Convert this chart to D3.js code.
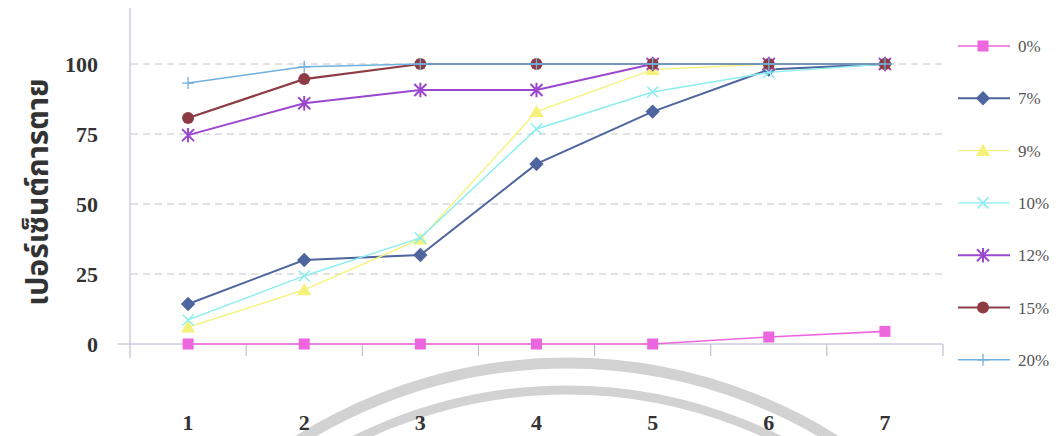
<!DOCTYPE html>
<html>
<head>
<meta charset="utf-8">
<script src="https://cdn.jsdelivr.net/npm/d3@7/dist/d3.min.js"></script>
<style>
  html, body { margin: 0; padding: 0; background: #ffffff; }
  svg { display: block; }
</style>
</head>
<body>
<svg id="chart" width="1058" height="436"></svg>
<script>
// Days after treatment
const days = ["1", "2", "3", "4", "5", "6", "7"];
// Y-axis tick values
const yTicks = [0, 25, 50, 75, 100];

// Percent mortality per concentration
const c0  = [0, 0, 0, 0, 0, 2.5, 4.5];
const c7  = [14.3, 30, 31.8, 64.3, 83, 98, 100];
const c9  = [6, 19.3, 37.5, 83, 98, 100, 100];
const c10 = [8.6, 24.3, 37.9, 76.8, 90, 97, 100];
const c12 = [74.6, 86, 90.7, 90.7, 100, 100, 100];
const c15 = [80.7, 94.6, 100, 100, 100, 100, 100];
const c20 = [93.2, 99, 100, 100, 100, 100, 100];

const seriesNames = ["0%", "7%", "9%", "10%", "12%", "15%", "20%"];
const seriesValues = [c0, c7, c9, c10, c12, c15, c20];
const seriesColors = ["#ee66dd", "#4f659f", "#f4f27a", "#8ceeee", "#9b47cf", "#8e3c44", "#6fb0de"];
const seriesMarkers = ["square", "diamond", "triangle", "cross", "star", "circle", "plus"];
const seriesWidths = [1.6, 2, 1.4, 1.4, 2, 2.2, 1.4];

const svg = d3.select("#chart");

const x = d3.scaleBand().domain(days).range([130, 943]).paddingInner(0).paddingOuter(0);
const y = d3.scaleLinear().domain([-5, 120]).range([358, 8]);
const cx = d => x(d) + x.bandwidth() / 2;

// faint circular watermark arcs
const wm = svg.append("g");
[[503, 11], [476, 9]].forEach(([r, w]) => {
  wm.append("circle")
    .attr("cx", 567).attr("cy", 866).attr("r", r)
    .attr("fill", "none").attr("stroke", "#d2d2d2").attr("stroke-width", w);
});

// dashed gridlines
svg.append("g").selectAll("line")
  .data(yTicks.filter(v => v > 0))
  .join("line")
  .attr("x1", 131).attr("x2", 943)
  .attr("y1", d => y(d)).attr("y2", d => y(d))
  .attr("stroke", "#c4c4cc").attr("stroke-width", 1)
  .attr("stroke-dasharray", "7,5");

// y axis line
svg.append("line")
  .attr("x1", 130).attr("x2", 130)
  .attr("y1", y(120)).attr("y2", y(-5))
  .attr("stroke", "#b4b4c8").attr("stroke-width", 1);

// x axis with ticks at category boundaries
const xAxisG = svg.append("g").attr("transform", `translate(0,${y(0)})`);
xAxisG.append("line")
  .attr("x1", 118).attr("x2", 943).attr("y1", 0).attr("y2", 0)
  .attr("stroke", "#b4b4c8").attr("stroke-width", 1);
xAxisG.selectAll("line.tick")
  .data(days)
  .join("line")
  .attr("class", "tick")
  .attr("x1", d => x(d) + x.bandwidth()).attr("x2", d => x(d) + x.bandwidth())
  .attr("y1", 0).attr("y2", 12)
  .attr("stroke", "#b4b4c8").attr("stroke-width", 1);

// x tick labels
svg.append("g").selectAll("text")
  .data(days)
  .join("text")
  .attr("x", d => cx(d)).attr("y", 430)
  .attr("text-anchor", "middle")
  .attr("font-family", "'Liberation Serif', 'Times New Roman', serif")
  .attr("font-weight", "bold").attr("font-size", 22)
  .attr("fill", "#333")
  .text(d => d);

// y tick labels
svg.append("g").selectAll("text")
  .data(yTicks)
  .join("text")
  .attr("x", 98).attr("y", d => y(d) + 8)
  .attr("text-anchor", "end")
  .attr("font-family", "'Liberation Serif', 'Times New Roman', serif")
  .attr("font-weight", "bold").attr("font-size", 22)
  .attr("fill", "#333")
  .text(d => d);

// y axis title
svg.append("text")
  .attr("transform", "translate(48,192) rotate(-90)")
  .attr("text-anchor", "middle")
  .attr("font-family", "'Noto Sans Thai', 'Noto Serif Thai', 'Loma', 'Garuda', 'Norasi', 'DejaVu Sans', sans-serif")
  .attr("font-weight", "bold").attr("font-size", 30)
  .attr("fill", "#333")
  .text("เปอร์เซ็นต์การตาย");

// marker drawing
function drawMarker(g, type, color, size) {
  const s = size;
  switch (type) {
    case "square":
      g.append("rect").attr("x", -s / 2).attr("y", -s / 2).attr("width", s).attr("height", s)
        .attr("fill", color);
      break;
    case "diamond":
      g.append("path").attr("d", `M0,${-s * 0.6}L${s * 0.6},0L0,${s * 0.6}L${-s * 0.6},0Z`)
        .attr("fill", color);
      break;
    case "triangle":
      g.append("path").attr("d", `M0,${-s * 0.55}L${s * 0.6},${s * 0.45}L${-s * 0.6},${s * 0.45}Z`)
        .attr("fill", color);
      break;
    case "cross":
      g.append("path").attr("d", `M${-s / 2},${-s / 2}L${s / 2},${s / 2}M${s / 2},${-s / 2}L${-s / 2},${s / 2}`)
        .attr("stroke", color).attr("stroke-width", 1.5).attr("fill", "none");
      break;
    case "star":
      g.append("path").attr("d", `M${-s / 2},${-s / 2}L${s / 2},${s / 2}M${s / 2},${-s / 2}L${-s / 2},${s / 2}M0,${-s * 0.6}L0,${s * 0.6}`)
        .attr("stroke", color).attr("stroke-width", 2).attr("fill", "none");
      break;
    case "circle":
      g.append("circle").attr("r", s / 2).attr("fill", color);
      break;
    case "plus":
      g.append("path").attr("d", `M${-s / 2},0L${s / 2},0M0,${-s / 2}L0,${s / 2}`)
        .attr("stroke", color).attr("stroke-width", 1.3).attr("fill", "none");
      break;
  }
}
const markerSize = [11, 12, 12, 11, 12, 12, 12];

// series lines and markers
const line = d3.line().x((d, i) => cx(days[i])).y(d => y(d));
seriesValues.forEach((vals, k) => {
  const g = svg.append("g");
  g.append("path")
    .datum(vals)
    .attr("d", line)
    .attr("fill", "none")
    .attr("stroke", seriesColors[k])
    .attr("stroke-width", seriesWidths[k]);
  vals.forEach((v, i) => {
    const m = g.append("g").attr("transform", `translate(${cx(days[i])},${y(v)})`);
    drawMarker(m, seriesMarkers[k], seriesColors[k], markerSize[k]);
  });
});

// legend
const legend = svg.append("g");
seriesNames.forEach((name, k) => {
  const ly = 46 + k * 52.3;
  const row = legend.append("g").attr("transform", `translate(0,${ly})`);
  row.append("line").attr("x1", 958).attr("x2", 1010).attr("y1", 0).attr("y2", 0)
    .attr("stroke", seriesColors[k]).attr("stroke-width", seriesWidths[k]);
  const m = row.append("g").attr("transform", "translate(983,0)");
  drawMarker(m, seriesMarkers[k], seriesColors[k], markerSize[k]);
  row.append("text")
    .attr("x", 1018).attr("y", 6)
    .attr("font-family", "'Liberation Serif', 'Times New Roman', serif")
    .attr("font-size", 17)
    .attr("fill", "#555")
    .text(name);
});
</script>
</body>
</html>
